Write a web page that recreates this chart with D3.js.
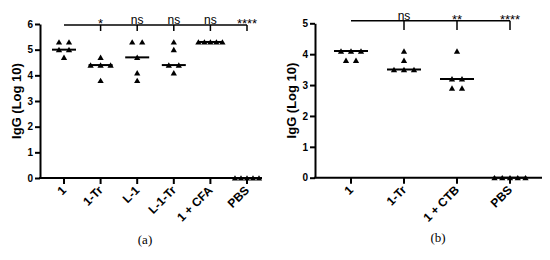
<!DOCTYPE html>
<html>
<head>
<meta charset="utf-8">
<script src="https://cdn.jsdelivr.net/npm/d3@7"></script>
<style>
  body { margin: 0; background: #fff; }
  svg { display: block; }
  text { font-family: "Liberation Sans", Arial, sans-serif; fill: #000; }
</style>
</head>
<body>
<div id="chart"></div>
<script>
// panel (a)
var catsA = ["1", "1-Tr", "L-1", "L-1-Tr", "1 + CFA", "PBS"];
var valsA = [
  [5.3, 5.3, 5.0, 5.0, 4.7],
  [4.7, 4.4, 4.4, 4.4, 3.8],
  [5.3, 5.3, 4.7, 4.1, 3.8],
  [5.3, 5.0, 4.4, 4.4, 4.1],
  [5.3, 5.3, 5.3, 5.3, 5.3],
  [0, 0, 0, 0, 0]
];
var sigA = ["", "*", "ns", "ns", "ns", "****"];
var ticksA = [0, 1, 2, 3, 4, 5, 6];

// panel (b)
var catsB = ["1", "1-Tr", "1 + CTB", "PBS"];
var valsB = [
  [4.1, 4.1, 4.1, 3.8, 3.8],
  [4.1, 3.8, 3.5, 3.5, 3.5],
  [4.1, 3.2, 3.2, 2.9, 2.9],
  [0, 0, 0, 0, 0]
];
var sigB = ["", "ns", "**", "****"];
var ticksB = [0, 1, 2, 3, 4, 5];

var w = 550, h = 260;
var svg = d3.select('#chart').append('svg')
  .attr('width', w)
  .attr('height', h);

var tri = d3.symbol().type(d3.symbolTriangle).size(17);

function panel(o) {
  var g = svg.append('g');
  var x = d3.scalePoint().domain(o.cats).range(o.xr);
  var y = d3.scaleLinear().domain([0, d3.max(o.ticks)]).range(o.yr);
  var y0 = y(0);

  // y axis
  var ya = g.append('g')
    .attr('transform', 'translate(' + o.ax + ',0)')
    .call(d3.axisLeft(y).tickValues(o.ticks).tickFormat(d3.format('d'))
      .tickSize(5).tickSizeOuter(0).tickPadding(2));
  ya.select('.domain').attr('stroke-width', 2).attr('stroke', '#000');
  ya.selectAll('.tick line').attr('stroke-width', 2).attr('stroke', '#000');
  ya.selectAll('.tick text')
    .style('font-family', '"Liberation Sans", Arial, sans-serif')
    .style('font-size', '10px').style('font-weight', 'bold').attr('fill', '#000');

  // x axis line
  g.append('line')
    .attr('x1', o.ax - 1).attr('x2', o.axEnd)
    .attr('y1', y0).attr('y2', y0)
    .attr('stroke', '#000').attr('stroke-width', 2);
  g.selectAll('.xt').data(o.cats).enter().append('line')
    .attr('x1', function(d) { return x(d); })
    .attr('x2', function(d) { return x(d); })
    .attr('y1', y0).attr('y2', y0 + 6)
    .attr('stroke', '#000').attr('stroke-width', 2);
  g.selectAll('.xl').data(o.cats).enter().append('text')
    .attr('transform', function(d) {
      return 'translate(' + (x(d) + 3) + ',' + (y0 + 13) + ') rotate(-45)';
    })
    .attr('text-anchor', 'end')
    .style('font-size', '12px').style('font-weight', 'bold')
    .text(function(d) { return d; });

  // y title
  g.append('text')
    .attr('transform', 'translate(' + o.titleX + ',' + ((o.yr[0] + o.yr[1]) / 2) + ') rotate(-90)')
    .attr('text-anchor', 'middle')
    .style('font-size', '13px').style('font-weight', 'bold')
    .text('IgG (Log 10)');

  // points, spread sideways when values repeat
  o.vals.forEach(function(arr, i) {
    var cx = x(o.cats[i]);
    var groups = d3.group(arr, function(v) { return v; });
    groups.forEach(function(list, v) {
      var n = list.length;
      var sp = n > 1 ? Math.min(o.step, o.spread / (n - 1)) : 0;
      list.forEach(function(d, k) {
        g.append('path')
          .attr('d', tri)
          .attr('transform', 'translate(' + (cx + (k - (n - 1) / 2) * sp) + ',' + (y(v) + 0.8) + ')')
          .attr('fill', '#000');
      });
    });
    var m = d3.median(arr);
    g.append('line')
      .attr('x1', cx - o.med).attr('x2', cx + o.med)
      .attr('y1', y(m)).attr('y2', y(m))
      .attr('stroke', '#000').attr('stroke-width', 2);
  });

  // significance bracket
  var first = x(o.cats[0]), last = x(o.cats[o.cats.length - 1]);
  g.append('line')
    .attr('x1', first).attr('x2', last)
    .attr('y1', o.sigY).attr('y2', o.sigY)
    .attr('stroke', '#000').attr('stroke-width', 1.5);
  o.cats.forEach(function(c, i) {
    if (!o.sig[i]) return;
    g.append('line')
      .attr('x1', x(c)).attr('x2', x(c))
      .attr('y1', o.sigY).attr('y2', o.sigBot)
      .attr('stroke', '#000').attr('stroke-width', 1.5);
    var star = o.sig[i].indexOf('*') >= 0;
    g.append('text')
      .attr('x', x(c)).attr('y', o.sigY - 1 + (star ? 4 : 0))
      .attr('text-anchor', 'middle')
      .style('font-size', star ? '13px' : '12px')
      .text(o.sig[i]);
  });

  // caption
  svg.append('text')
    .attr('x', o.capX).attr('y', o.capY)
    .attr('text-anchor', 'middle')
    .style('font-family', '"Liberation Serif", "DejaVu Serif", serif')
    .style('font-size', '13px')
    .text(o.cap);
}

panel({
  cats: catsA, vals: valsA, sig: sigA, ticks: ticksA,
  xr: [64, 247], yr: [178, 24], ax: 40, axEnd: 262,
  titleX: 21, med: 12, step: 10, spread: 24,
  sigY: 25, sigBot: 31, cap: '(a)', capX: 145, capY: 244
});

panel({
  cats: catsB, vals: valsB, sig: sigB, ticks: ticksB,
  xr: [351, 510], yr: [177.7, 23.3], ax: 315, axEnd: 542,
  titleX: 296, med: 17, step: 10, spread: 31,
  sigY: 20.7, sigBot: 30, cap: '(b)', capX: 438, capY: 242
});
</script>
</body>
</html>
